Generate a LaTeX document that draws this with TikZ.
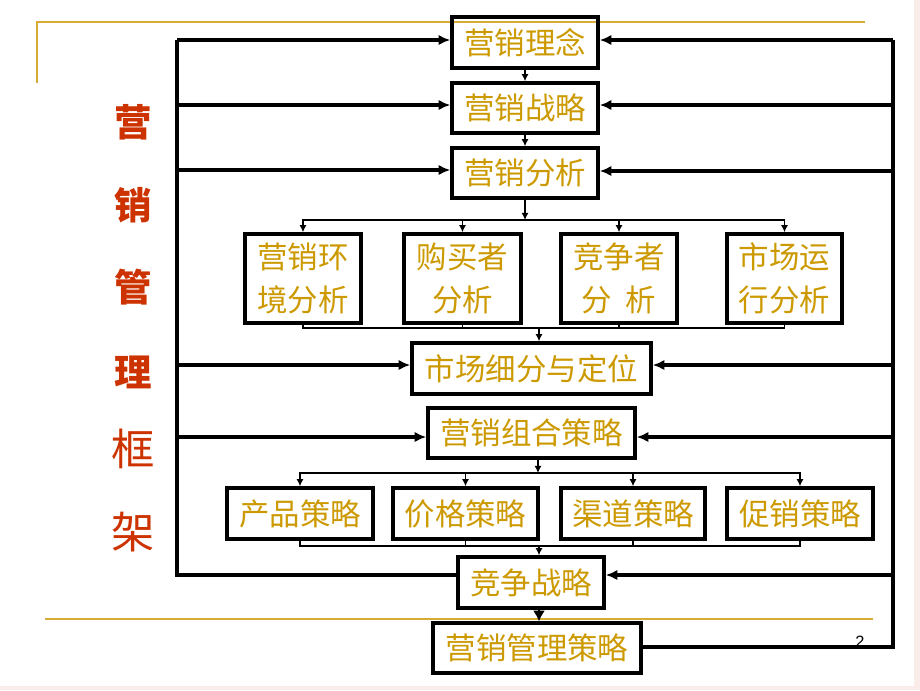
\documentclass[tikz,border=0pt]{standalone}
\usepackage{fontspec}
\setmainfont{Noto Sans CJK SC}
\newfontfamily\pnum{Liberation Sans}
\usetikzlibrary{arrows.meta}
\definecolor{boxgold}{RGB}{204,153,0}
\definecolor{linegold}{RGB}{214,172,54}
\definecolor{titlered}{RGB}{204,51,0}
\definecolor{edgepink}{RGB}{250,236,232}
\begin{document}
\begin{tikzpicture}[x=0.03cm,y=-0.03cm,
  box/.style={draw,line width=3pt,text=boxgold,inner sep=0pt,align=center,font=\fontsize{26}{37}\selectfont},
  bus/.style={line width=1.3pt},
  fb/.style={line width=3pt},
  tip/.style={-{Latex[length=6pt,width=6pt]}},
  bigtip/.style={-{Latex[length=10pt,width=9pt]}},
  title/.style={text=titlered,font=\fontsize{37}{40}\selectfont}]
\useasboundingbox(0,0)rectangle(920,690);
\fill[edgepink](914,0)rectangle(920,690);
\fill[edgepink](0,686)rectangle(920,690);
\draw[linegold,line width=1.5pt](37,83)--(37,22)--(865,22);
\draw[linegold,line width=1.5pt](45,619)--(873,619);
\foreach \c/\y [count=\i] in {营/122,销/205,管/287,理/372}
  \node[title,font=\fontsize{32}{36}\selectfont\bfseries](t\i)at(133,\y){\c};
\node[title](t5)at(133,449){框};
\node[title](t6)at(133,532){架};
\node[box,minimum width=4.38cm,minimum height=1.53cm](lnian)at(525,42.5){营销理念};
\node[box,minimum width=4.38cm,minimum height=1.5cm](zlue)at(525,108){营销战略};
\node[box,minimum width=4.38cm,minimum height=1.5cm](fenxi)at(525,173){营销分析};
\node[box,minimum width=3.48cm,minimum height=2.67cm](hj)at(303,278.5){营销环\\境分析};
\node[box,minimum width=3.51cm,minimum height=2.67cm](gm)at(462.5,278.5){购买者\\分析};
\node[box,minimum width=3.48cm,minimum height=2.67cm](jz)at(619,278.5){竞争者\\分\hspace{0.45em}析};
\node[box,minimum width=3.45cm,minimum height=2.67cm](sc)at(784.5,278.5){市场运\\行分析};
\node[box,minimum width=7.17cm,minimum height=1.53cm](xf)at(531.5,368.5){市场细分与定位};
\node[box,minimum width=6.21cm,minimum height=1.5cm](zh)at(531.5,433){营销组合策略};
\node[box,minimum width=4.38cm,minimum height=1.53cm](cp)at(300,513.5){产品策略};
\node[box,minimum width=4.35cm,minimum height=1.53cm](jg)at(465.5,513.5){价格策略};
\node[box,minimum width=4.32cm,minimum height=1.53cm](qd)at(633,513.5){渠道策略};
\node[box,minimum width=4.38cm,minimum height=1.53cm](cx)at(800,513.5){促销策略};
\node[box,minimum width=4.38cm,minimum height=1.53cm](jzzl)at(531,582.5){竞争战略};
\node[box,minimum width=6.24cm,minimum height=1.5cm](gl)at(537,648){营销管理策略};
\node[font=\pnum\fontsize{14}{16}\selectfont](pg)at(860,642){2};
\draw[bus,tip](lnian)--(zlue);
\draw[bus,tip](zlue)--(fenxi);
\coordinate(b1)at(525,220);
\draw[bus,tip](fenxi)--(b1);
\foreach \n in {hj,gm,jz,sc}\draw[bus,tip](b1)-|(\n);
\coordinate(b2)at(539,328);
\foreach \n in {hj,gm,jz,sc}\draw[bus](\n)|-(b2);
\draw[bus,tip](b2)--(b2|-xf.north);
\coordinate(b3)at(538,473);
\draw[bus,tip](b3|-zh.south)--(b3);
\foreach \n in {cp,jg,qd,cx}\draw[bus,tip](b3)-|(\n);
\coordinate(b4)at(539,546);
\foreach \n in {cp,jg,qd,cx}\draw[bus](\n)|-(b4);
\draw[bus,tip](b4)--(b4|-jzzl.north);
\draw[bus,-{Latex[length=9pt,width=10pt]}](b4|-jzzl.south)--(b4|-gl.north);
\coordinate(lt)at(177,40);
\coordinate(lb)at(177,575);
\draw[fb](jzzl.west|-lb)--(lb)--(lt);
\draw[fb,bigtip](lt)--(lt-|lnian.west);
\foreach \n/\y in {zlue/105,fenxi/170,xf/365,zh/437}\draw[fb,bigtip](177,\y)--(\n.west|-0,\y);
\coordinate(rt)at(893,40);
\coordinate(rb)at(893,647);
\draw[fb](gl.east|-rb)--(rb)--(rt);
\draw[fb,bigtip](rt)--(rt-|lnian.east);
\foreach \n/\y in {zlue/105,fenxi/171,xf/365,zh/437,jzzl/575}\draw[fb,bigtip](893,\y)--(\n.east|-0,\y);
\end{tikzpicture}
\end{document}
